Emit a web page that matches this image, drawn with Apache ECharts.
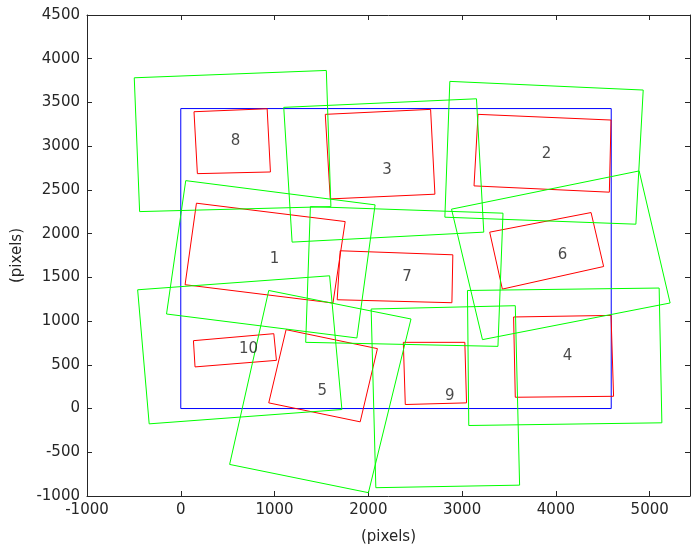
<!DOCTYPE html>
<html>
<head>
<meta charset="utf-8">
<script src="https://cdn.jsdelivr.net/npm/echarts@6/dist/echarts.min.js"></script>
<style>html,body{margin:0;padding:0;background:#fff}#c{width:693px;height:550px}</style>
</head>
<body>
<div id="c"></div>
<script>
// Image extent (blue)
const blueQuad = [[0, 0], [4590, 0], [4590, 3430], [0, 3430]];

// Red quads, labelled 1..10
const redQuads = [
  [[167, 2348], [1753, 2138], [1623, 1207], [46, 1416]],     // 1
  [[3170, 3364], [4588, 3299], [4570, 2474], [3127, 2546]],  // 2
  [[1541, 3364], [2664, 3421], [2710, 2451], [1594, 2397]],  // 3
  [[3549, 1047], [4588, 1065], [4615, 140], [3567, 129]],    // 4
  [[1123, 902], [2097, 685], [1913, -152], [938, 65]],       // 5
  [[3294, 2017], [4375, 2241], [4509, 1624], [3429, 1366]],  // 6
  [[1700, 1804], [2901, 1758], [2891, 1210], [1668, 1244]],  // 7
  [[141, 3394], [921, 3428], [956, 2705], [177, 2686]],      // 8
  [[2373, 757], [3029, 757], [3047, 65], [2394, 46]],        // 9
  [[135, 776], [992, 856], [1020, 551], [152, 476]]          // 10
];

// Green quads, same order
const greenQuads = [
  [[53, 2606], [2072, 2329], [1878, 807], [-152, 1081]],     // 1
  [[2869, 3741], [4931, 3642], [4853, 2108], [2816, 2188]],  // 2
  [[1098, 3444], [3153, 3542], [3231, 2017], [1187, 1903]],  // 3
  [[3057, 1350], [5101, 1378], [5130, -163], [3071, -194]],  // 4
  [[938, 1350], [2455, 1024], [2001, -962], [521, -639]],    // 5
  [[2887, 2280], [4888, 2717], [5218, 1207], [3217, 788]],   // 6
  [[1382, 2309], [3436, 2234], [3382, 711], [1332, 757]],    // 7
  [[-496, 3782], [1552, 3866], [1601, 2309], [-439, 2252]],  // 8
  [[2030, 1138], [3567, 1176], [3613, -876], [2080, -905]],  // 9
  [[-460, 1358], [1587, 1518], [1718, -11], [-337, -175]]    // 10
];

const labelText = ['1', '2', '3', '4', '5', '6', '7', '8', '9', '10'];
const labelX = [999, 3900, 2200, 4123, 1509, 4070, 2412, 584, 2869, 723];
const labelY = [1712, 2911, 2728, 594, 194, 1758, 1507, 3059, 137, 674];

const xTicks = [-1000, 0, 1000, 2000, 3000, 4000, 5000];
const yTicks = [-1000, -500, 0, 500, 1000, 1500, 2000, 2500, 3000, 3500, 4000, 4500];

const FONT = 'DejaVu Sans';
const AX = '#262626';

function closed(q) { return q.concat([q[0]]); }
function quadSeries(q, color, z) {
  return {
    type: 'line', data: closed(q), symbol: 'none', silent: true, z: z,
    lineStyle: { color: color, width: 1 }, animation: false
  };
}

const series = [];
series.push(quadSeries(blueQuad, '#0000ff', 2));
redQuads.forEach(q => series.push(quadSeries(q, '#ff0000', 3)));
greenQuads.forEach(q => series.push(quadSeries(q, '#00ff00', 4)));
series.push({
  type: 'scatter', symbolSize: 0, z: 10, animation: false,
  data: labelText.map((t, i) => [labelX[i], labelY[i], t]),
  label: {
    show: true, position: 'inside', formatter: p => p.data[2],
    color: '#1a1a1a', fontFamily: FONT, fontSize: 15
  }
});

const xMin = -1000, xMax = 5430, yMin = -1000, yMax = 4500;
function lbl(list) { return v => (list.indexOf(v) >= 0 ? String(v) : ''); }

const chart = echarts.init(document.getElementById('c'), null, { renderer: 'canvas' });
chart.setOption({
  backgroundColor: '#fff',
  animation: false,
  grid: { left: 87, right: 1, top: 15, bottom: 52, containLabel: false },
  xAxis: [
    {
      type: 'value', min: xMin, max: xMax, interval: 1000, position: 'bottom',
      name: '(pixels)', nameLocation: 'middle', nameGap: 34,
      nameTextStyle: { fontFamily: FONT, fontSize: 15, color: AX },
      axisLine: { onZero: false, lineStyle: { color: AX, width: 1 } },
      axisTick: { inside: true, length: 5, lineStyle: { color: AX } },
      axisLabel: { formatter: lbl(xTicks), fontFamily: FONT, fontSize: 15, color: AX, margin: 7 },
      splitLine: { show: false }
    },
    {
      type: 'value', min: xMin, max: xMax, interval: 1000, position: 'top',
      axisLine: { onZero: false, lineStyle: { color: AX, width: 1 } },
      axisTick: { inside: true, length: 5, lineStyle: { color: AX } },
      axisLabel: { show: false }, splitLine: { show: false }
    }
  ],
  yAxis: [
    {
      type: 'value', min: yMin, max: yMax, interval: 500, position: 'left',
      name: '(pixels)', nameLocation: 'middle', nameGap: 62, nameRotate: 90,
      nameTextStyle: { fontFamily: FONT, fontSize: 15, color: AX },
      axisLine: { onZero: false, lineStyle: { color: AX, width: 1 } },
      axisTick: { inside: true, length: 5, lineStyle: { color: AX } },
      axisLabel: { formatter: lbl(yTicks), fontFamily: FONT, fontSize: 15, color: AX, margin: 7 },
      splitLine: { show: false }
    },
    {
      type: 'value', min: yMin, max: yMax, interval: 500, position: 'right',
      axisLine: { onZero: false, lineStyle: { color: AX, width: 1 } },
      axisTick: { inside: true, length: 5, lineStyle: { color: AX } },
      axisLabel: { show: false }, splitLine: { show: false }
    }
  ],
  series: series
});
</script>
</body>
</html>
